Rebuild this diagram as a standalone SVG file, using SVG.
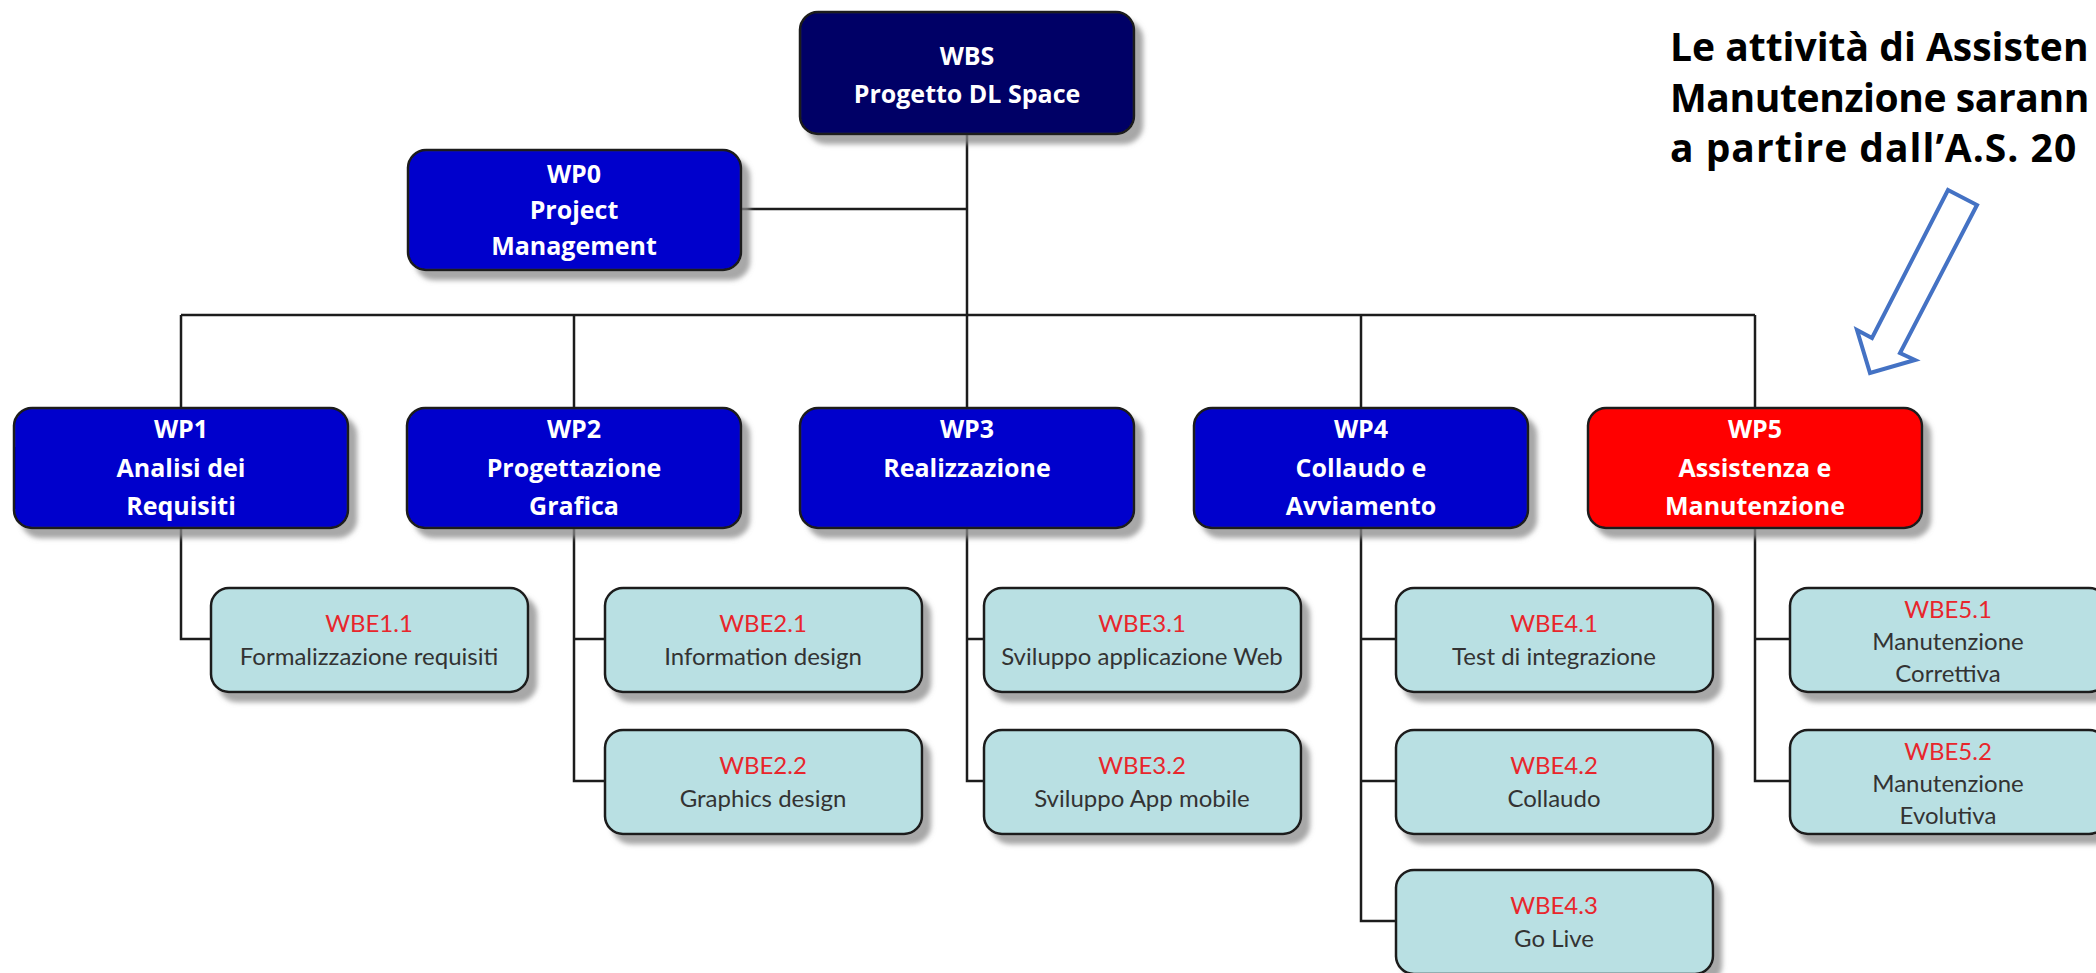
<svg xmlns="http://www.w3.org/2000/svg" width="2096" height="973" viewBox="0 0 2096 973">
<defs>
<filter id="sh" x="-10%" y="-10%" width="130%" height="140%">
<feGaussianBlur in="SourceAlpha" stdDeviation="2.5"/>
<feOffset dx="8" dy="9" result="o"/>
<feFlood flood-color="#8a8a8a" flood-opacity="0.75"/>
<feComposite in2="o" operator="in"/>
<feMerge><feMergeNode/><feMergeNode in="SourceGraphic"/></feMerge>
</filter>
</defs>
<style>
.box{stroke:#1c1c1c;stroke-width:2.5;filter:url(#sh)}
.top{fill:#000066}
.wp{fill:#0000cc}
.red{fill:#ff0000}
.wbe{fill:#b9e0e3}
.wt{font-family:"Open Sans","Liberation Sans",sans-serif;font-weight:bold;font-size:25px;fill:#ffffff;text-anchor:middle}
.ct{font-family:Lato,"Liberation Sans",sans-serif;font-size:24px;fill:#333333;text-anchor:middle}
.cr{fill:#e8262c}
.ln{fill:none;stroke:#1c1c1c;stroke-width:2.5}
.note{font-family:"Open Sans","DejaVu Sans",sans-serif;font-weight:bold;font-size:39px;fill:#000000}
</style>
<rect width="2096" height="973" fill="#ffffff"/>
<g id="connectors" class="ln">
<path d="M967 134V315M741 209H967M181 315H1755"/>
<path d="M181 315V408M574 315V408M967 315V408M1361 315V408M1755 315V408"/>
<path d="M181 528V639H211"/>
<path d="M574 528V781H605M574 639H605"/>
<path d="M967 528V781H984M967 639H984"/>
<path d="M1361 528V921H1396M1361 639H1396M1361 781H1396"/>
<path d="M1755 528V781H1790M1755 639H1790"/>
</g>
<g id="wbs"><rect class="box top" x="800" y="12" width="334" height="122" rx="18"/>
<text class="wt" x="967" y="65">WBS</text><text class="wt" x="967" y="103">Progetto DL Space</text></g>
<g id="wp0"><rect class="box wp" x="408" y="150" width="333" height="120" rx="18"/>
<text class="wt" x="574" y="183">WP0</text><text class="wt" x="574" y="219">Project</text><text class="wt" x="574" y="255">Management</text></g>
<g id="wp1"><rect class="box wp" x="14" y="408" width="334" height="120" rx="18"/>
<text class="wt" x="181" y="438">WP1</text><text class="wt" x="181" y="477">Analisi dei</text><text class="wt" x="181" y="515">Requisiti</text></g>
<g id="wp2"><rect class="box wp" x="407" y="408" width="334" height="120" rx="18"/>
<text class="wt" x="574" y="438">WP2</text><text class="wt" x="574" y="477">Progettazione</text><text class="wt" x="574" y="515">Grafica</text></g>
<g id="wp3"><rect class="box wp" x="800" y="408" width="334" height="120" rx="18"/>
<text class="wt" x="967" y="438">WP3</text><text class="wt" x="967" y="477">Realizzazione</text></g>
<g id="wp4"><rect class="box wp" x="1194" y="408" width="334" height="120" rx="18"/>
<text class="wt" x="1361" y="438">WP4</text><text class="wt" x="1361" y="477">Collaudo e</text><text class="wt" x="1361" y="515">Avviamento</text></g>
<g id="wp5"><rect class="box red" x="1588" y="408" width="334" height="120" rx="18"/>
<text class="wt" x="1755" y="438">WP5</text><text class="wt" x="1755" y="477">Assistenza e</text><text class="wt" x="1755" y="515">Manutenzione</text></g>
<g id="wbe1-1"><rect class="box wbe" x="211" y="588" width="317" height="104" rx="18"/>
<text class="ct cr" x="369" y="632">WBE1.1</text><text class="ct" x="369" y="665">Formalizzazione requisiti</text></g>
<g id="wbe2-1"><rect class="box wbe" x="605" y="588" width="317" height="104" rx="18"/>
<text class="ct cr" x="763" y="632">WBE2.1</text><text class="ct" x="763" y="665">Information design</text></g>
<g id="wbe2-2"><rect class="box wbe" x="605" y="730" width="317" height="104" rx="18"/>
<text class="ct cr" x="763" y="774">WBE2.2</text><text class="ct" x="763" y="807">Graphics design</text></g>
<g id="wbe3-1"><rect class="box wbe" x="984" y="588" width="317" height="104" rx="18"/>
<text class="ct cr" x="1142" y="632">WBE3.1</text><text class="ct" x="1142" y="665">Sviluppo applicazione Web</text></g>
<g id="wbe3-2"><rect class="box wbe" x="984" y="730" width="317" height="104" rx="18"/>
<text class="ct cr" x="1142" y="774">WBE3.2</text><text class="ct" x="1142" y="807">Sviluppo App mobile</text></g>
<g id="wbe4-1"><rect class="box wbe" x="1396" y="588" width="317" height="104" rx="18"/>
<text class="ct cr" x="1554" y="632">WBE4.1</text><text class="ct" x="1554" y="665">Test di integrazione</text></g>
<g id="wbe4-2"><rect class="box wbe" x="1396" y="730" width="317" height="104" rx="18"/>
<text class="ct cr" x="1554" y="774">WBE4.2</text><text class="ct" x="1554" y="807">Collaudo</text></g>
<g id="wbe4-3"><rect class="box wbe" x="1396" y="870" width="317" height="104" rx="18"/>
<text class="ct cr" x="1554" y="914">WBE4.3</text><text class="ct" x="1554" y="947">Go Live</text></g>
<g id="wbe5-1"><rect class="box wbe" x="1790" y="588" width="317" height="104" rx="18"/>
<text class="ct cr" x="1948" y="618">WBE5.1</text><text class="ct" x="1948" y="650">Manutenzione</text><text class="ct" x="1948" y="682">Correttiva</text></g>
<g id="wbe5-2"><rect class="box wbe" x="1790" y="730" width="317" height="104" rx="18"/>
<text class="ct cr" x="1948" y="760">WBE5.2</text><text class="ct" x="1948" y="792">Manutenzione</text><text class="ct" x="1948" y="824">Evolutiva</text></g>
<g id="note">
<text class="note" x="1670" y="61">Le attività di Assisten</text>
<text class="note" x="1670" y="112" letter-spacing="-0.4">Manutenzione sarann</text>
<text class="note" x="1670" y="162" letter-spacing="1">a partire dall’A.S. 20</text>
</g>
<g id="arrow"><path d="M1948 190L1977 205L1900 353L1915 360L1870 373L1857 330L1872 338Z" fill="#ffffff" stroke="#4472c4" stroke-width="4" stroke-linejoin="miter"/></g>
</svg>
